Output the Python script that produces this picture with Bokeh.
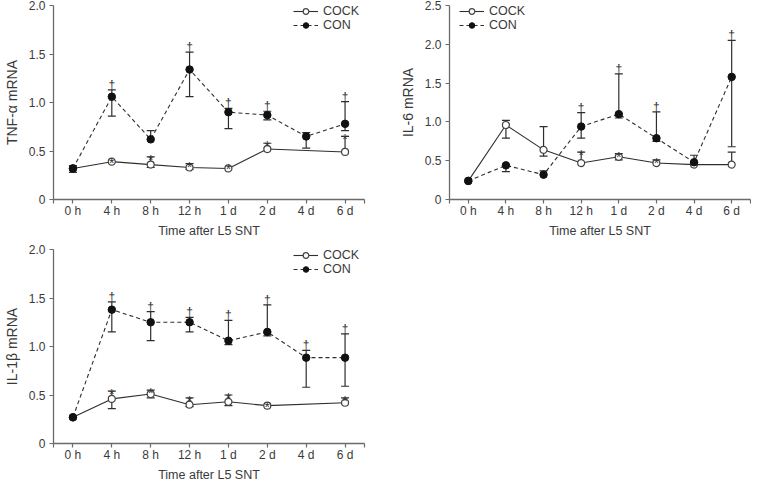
from bokeh.plotting import figure
from bokeh.layouts import column, row
from bokeh.models import (ColumnDataSource, Whisker, TeeHead, FixedTicker, Legend,
                          LegendItem, Range1d)
from bokeh.embed import file_html
from bokeh.resources import INLINE
from bokeh.core.properties import value

categories = ["0 h", "4 h", "8 h", "12 h", "1 d", "2 d", "4 d", "6 d"]

# TNF-alpha
tnf_con = [0.32, 1.06, 0.62, 1.34, 0.90, 0.87, 0.65, 0.78]
tnf_con_up = [0.35, 1.13, 0.71, 1.52, 0.94, 0.91, 0.69, 1.01]
tnf_con_lo = [0.28, 0.86, None, 1.06, 0.73, 0.82, 0.53, 0.71]
tnf_con_sig = [0, 1, 0, 1, 1, 1, 0, 1]
tnf_cock = [0.32, 0.39, 0.36, 0.33, 0.32, 0.52, None, 0.49]
tnf_cock_up = [None, None, 0.44, 0.37, None, 0.58, None, 0.65]
tnf_cock_lo = [None, None, 0.33, 0.31, None, None, None, None]
tnf_cock_sig = [0, 1, 1, 1, 1, 1, 0, 1]

# IL-6
il6_con = [0.24, 0.44, 0.32, 0.94, 1.10, 0.79, 0.48, 1.58]
il6_con_up = [None, None, 0.37, 1.12, 1.62, 1.13, 0.57, 2.05]
il6_con_lo = [None, 0.36, None, 0.79, 1.05, 0.75, None, 0.68]
il6_con_sig = [0, 0, 0, 1, 1, 1, 0, 1]
il6_cock = [0.24, 0.96, 0.64, 0.47, 0.55, 0.47, 0.45, 0.45]
il6_cock_up = [None, 1.02, 0.94, 0.61, 0.59, 0.51, None, 0.61]
il6_cock_lo = [None, 0.79, 0.56, None, 0.51, None, None, None]
il6_cock_sig = [0, 0, 0, 1, 1, 1, 0, 0]

# IL-1beta
il1b_con = [0.27, 1.38, 1.25, 1.25, 1.06, 1.15, 0.885, 0.885]
il1b_con_up = [None, 1.46, 1.36, 1.30, 1.27, 1.43, 0.96, 1.13]
il1b_con_lo = [None, 1.15, 1.06, 1.15, 1.02, 1.11, 0.58, 0.59]
il1b_con_sig = [0, 1, 1, 1, 1, 1, 1, 1]
il1b_cock = [0.27, 0.46, 0.51, 0.40, 0.43, 0.39, None, 0.42]
il1b_cock_up = [None, 0.54, 0.55, 0.47, 0.50, None, None, 0.47]
il1b_cock_lo = [None, 0.36, 0.47, 0.38, 0.39, None, None, None]
il1b_cock_sig = [0, 1, 1, 1, 1, 1, 0, 1]

FONT = "Liberation Sans"
TXT = "#3a3a3a"
AX = "#6a6a6a"
INK = "#2e2e2e"


def whiskers(p, vals, ups, los):
    ux, uv, uu = [], [], []
    lx, lv, ll = [], [], []
    for i, v in enumerate(vals):
        if v is None:
            continue
        if ups[i] is not None:
            ux.append(i); uv.append(v); uu.append(ups[i])
        if los[i] is not None:
            lx.append(i); lv.append(v); ll.append(los[i])
    up_src = ColumnDataSource(dict(x=ux, lower=uv, upper=uu))
    lo_src = ColumnDataSource(dict(x=lx, lower=ll, upper=lv))
    p.add_layout(Whisker(source=up_src, base="x", lower="lower", upper="upper",
                         dimension="height", line_color=INK, line_width=1.2,
                         upper_head=TeeHead(size=8, line_color=INK, line_width=1.2),
                         lower_head=None))
    p.add_layout(Whisker(source=lo_src, base="x", lower="lower", upper="upper",
                         dimension="height", line_color=INK, line_width=1.2,
                         lower_head=TeeHead(size=8, line_color=INK, line_width=1.2),
                         upper_head=None))


def sig_marks(p, con, con_up, con_sig, cock, cock_up, cock_sig):
    xs, ys, ts, dys, fss = [], [], [], [], []
    for vals, ups, sig, sym in ((con, con_up, con_sig, "\u2020"),
                                (cock, cock_up, cock_sig, "*")):
        for i, v in enumerate(vals):
            if v is None or not sig[i]:
                continue
            has_err = ups[i] is not None
            top = ups[i] if has_err else v
            xs.append(i); ys.append(top); ts.append(sym)
            if sym == "*":
                dys.append(3 if has_err else 1)
                fss.append("14px")
            else:
                dys.append(-5 if has_err else -8)
                fss.append("12px")
    src = ColumnDataSource(dict(x=xs, y=ys, t=ts, dy=dys, fs=fss))
    p.text(x="x", y="y", text="t", source=src, text_font=value(FONT),
           text_font_size="fs", text_align="center", text_baseline="alphabetic",
           y_offset="dy", text_color="#333333")


def panel(ylabel, ymax, yticks, ylabels, con, con_up, con_lo, con_sig,
          cock, cock_up, cock_lo, cock_sig, legend_x, width, height,
          mbl, mbr, mbt, mbb):
    frame_h = height - mbt - mbb
    p = figure(width=width, height=height, x_range=Range1d(-0.5, 7.5),
               y_range=Range1d(0, ymax), output_backend="svg", toolbar_location=None,
               min_border_left=mbl, min_border_right=mbr, min_border_top=mbt,
               min_border_bottom=mbb)
    p.grid.visible = False
    p.outline_line_color = None
    xs = list(range(len(categories)))

    p.xaxis.ticker = FixedTicker(ticks=[-0.5] + xs + [7.5])
    ov = {i: c for i, c in enumerate(categories)}
    ov[-0.5] = ""
    ov[7.5] = ""
    p.xaxis.major_label_overrides = ov
    p.yaxis.ticker = FixedTicker(ticks=yticks)
    p.yaxis.major_label_overrides = dict(zip(yticks, ylabels))
    p.xaxis.axis_label = "Time after L5 SNT"
    p.yaxis.axis_label = ylabel
    for ax in (p.xaxis[0], p.yaxis[0]):
        ax.axis_line_color = AX
        ax.axis_line_width = 1.3
        ax.major_tick_line_color = AX
        ax.major_tick_line_width = 1.2
        ax.major_tick_in = 0
        ax.major_tick_out = 4
        ax.minor_tick_line_color = None
        ax.major_label_text_font = FONT
        ax.major_label_text_font_size = "12px"
        ax.major_label_text_color = TXT
        ax.axis_label_text_font = FONT
        ax.axis_label_text_font_style = "normal"
        ax.axis_label_text_color = TXT
    p.xaxis.axis_label_text_font_size = "12.5px"
    p.yaxis.axis_label_text_font_size = "14px"
    p.xaxis.major_label_standoff = 0
    p.xaxis.axis_label_standoff = 3
    p.yaxis.major_label_standoff = 4
    p.yaxis.axis_label_standoff = 6

    # COCK (open circles, solid)
    cx = [i for i, v in enumerate(cock) if v is not None]
    cy = [v for v in cock if v is not None]
    cock_src = ColumnDataSource(dict(x=cx, y=cy))
    whiskers(p, cock, cock_up, cock_lo)
    cl = p.line("x", "y", source=cock_src, line_color=INK, line_width=1.1)
    cp = p.scatter("x", "y", source=cock_src, marker="circle", size=7,
                   fill_color="white", line_color="#444444", line_width=1.2)

    # CON (filled circles, dashed)
    con_src = ColumnDataSource(dict(x=xs, y=con))
    whiskers(p, con, con_up, con_lo)
    nl = p.line("x", "y", source=con_src, line_color=INK, line_width=1.1,
                line_dash="4 3")
    npnt = p.scatter("x", "y", source=con_src, marker="circle", size=7.5,
                     fill_color="#111111", line_color="#111111", line_width=1)

    sig_marks(p, con, con_up, con_sig, cock, cock_up, cock_sig)

    legend = Legend(items=[LegendItem(label="COCK", renderers=[cl, cp]),
                           LegendItem(label="CON", renderers=[nl, npnt])],
                    location=(legend_x, frame_h - 27), border_line_color=None,
                    background_fill_alpha=0, padding=0, margin=0, spacing=0,
                    glyph_width=25, glyph_height=14, label_height=14,
                    label_standoff=5, label_text_font=FONT,
                    label_text_font_size="12.5px", label_text_color=TXT)
    p.add_layout(legend)
    return p


p1 = panel("TNF-\u03b1 mRNA", 2.0, [0, 0.5, 1.0, 1.5, 2.0],
           ["0", "0.5", "1.0", "1.5", "2.0"],
           tnf_con, tnf_con_up, tnf_con_lo, tnf_con_sig,
           tnf_cock, tnf_cock_up, tnf_cock_lo, tnf_cock_sig,
           240, 396, 243, 47, 32, 5, 44)
p2 = panel("IL-6 mRNA", 2.5, [0, 0.5, 1.0, 1.5, 2.0, 2.5],
           ["0", "0.5", "1.0", "1.5", "2.0", "2.5"],
           il6_con, il6_con_up, il6_con_lo, il6_con_sig,
           il6_cock, il6_cock_up, il6_cock_lo, il6_cock_sig,
           10, 355, 243, 47, 1, 5, 44)
p3 = panel("IL-1\u03b2 mRNA", 2.0, [0, 0.5, 1.0, 1.5, 2.0],
           ["0", "0.5", "1.0", "1.5", "2.0"],
           il1b_con, il1b_con_up, il1b_con_lo, il1b_con_sig,
           il1b_cock, il1b_cock_up, il1b_cock_lo, il1b_cock_sig,
           240, 396, 244, 47, 32, 6, 44)

layout = column(row(p1, p2), p3)
open("out.html", "w").write(file_html(layout, INLINE))
